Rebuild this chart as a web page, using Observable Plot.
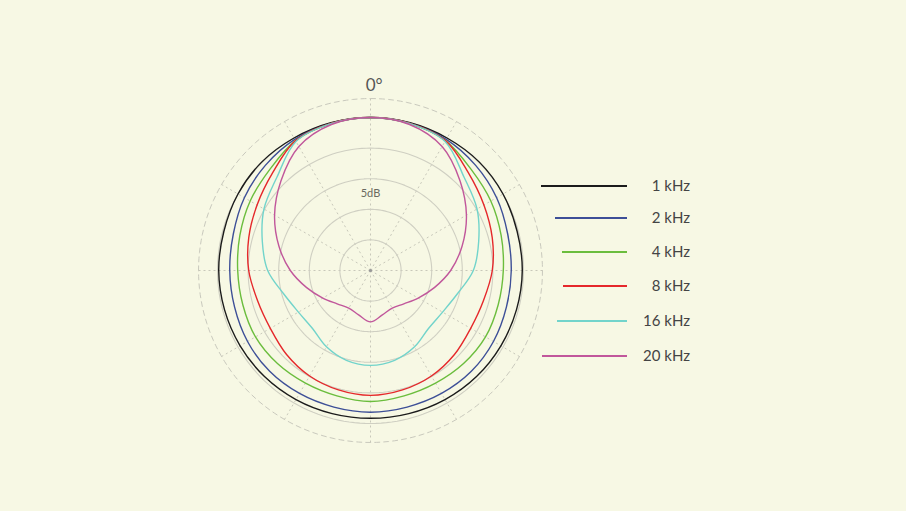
<!DOCTYPE html>
<html><head><meta charset="utf-8">
<script src="https://cdn.jsdelivr.net/npm/d3@7"></script>
<script src="https://cdn.jsdelivr.net/npm/@observablehq/plot@0.6"></script>
<style>
html,body{margin:0;padding:0;background:#f7f8e4;}
#wrap{position:relative;width:906px;height:511px;overflow:hidden;font-family:Lato,"Open Sans",sans-serif;}
#legend{position:absolute;left:0;top:0;}
</style></head><body><div id="wrap"></div>
<script>
// ---- data (dB relative to on-axis level; angle in degrees, 0 = front) ----
const angles = [0, 15, 30, 45, 60, 75, 90, 105, 120, 135, 150, 165, 180];
const frequencies = ["1 kHz", "2 kHz", "4 kHz", "8 kHz", "16 kHz", "20 kHz"];
const db1k  = [0, 0, 0, 0.1, 0, -0.2, -0.2, -0.3, -0.4, -0.5, -0.65, -0.8, -0.85];
const db2k  = [0, -0.1, -0.25, -0.7, -1.2, -1.8, -2.0, -2.0, -1.8, -1.7, -1.8, -1.9, -1.85];
const db4k  = [0, -0.15, -0.5, -1.7, -2.3, -2.9, -3.3, -3.4, -3.3, -3.5, -3.75, -3.8, -3.6];
const db8k  = [0, -0.1, -0.5, -2.4, -3.6, -4.4, -5.1, -5.9, -6.1, -5.6, -5.1, -4.8, -4.6];
const db16k = [0, -0.15, -0.65, -3.4, -4.9, -6.7, -8.2, -10.3, -11.4, -11.6, -10.6, -9.8, -9.5];
const db20k = [0, -0.3, -1.6, -4.3, -6.9, -9.5, -11.9, -14.2, -16.0, -17.3, -17.9, -17.5, -16.6];
const ringLevels = [-20, -15, -10, -5, 0];
const spokeAngles = [0, 30, 60, 90, 120, 150, 180, 210, 240, 270, 300, 330];
const scaleLabel = "5dB";
const scaleLabelDb = -12.4;
const topLabel = "0°";

// ---- styles ----
const colors = ["#1b1b1b", "#3d4f97", "#6bbd3d", "#e5282b", "#72d4cb", "#c1579b"];
const legendStarts = [541, 555, 562, 563, 557, 542];
const legendYs = [186, 218, 252, 286, 321, 356];
const W = 906, H = 511, cx = 370, cy = 270, pxPerDb = 6.12;
const floorDb = -25, outerDb = 3.1;

const series = [db1k, db2k, db4k, db8k, db16k, db20k];
const rad = Math.PI / 180;
const toXY = (ang, db) => ({x: (db - floorDb) * Math.sin(ang * rad), y: (db - floorDb) * Math.cos(ang * rad)});

const curvePts = [];
series.forEach((vals, si) => {
  const full = [];
  angles.forEach((a, i) => full.push([a, vals[i]]));
  for (let i = angles.length - 2; i >= 1; i--) full.push([360 - angles[i], vals[i]]);
  full.forEach(([a, v]) => curvePts.push({freq: frequencies[si], ...toXY(a, v)}));
});

const ringPts = [];
ringLevels.forEach(l => { for (let a = 0; a < 360; a += 2) ringPts.push({ring: l, ...toXY(a, l)}); });
const outerPts = [];
for (let a = 0; a < 360; a += 2) outerPts.push(toXY(a, outerDb));
const spokes = spokeAngles.map(a => ({a, ...toXY(a, outerDb)}));

const chart = Plot.plot({
  width: W, height: H, margin: 0,
  style: {background: "transparent", fontFamily: "Lato, 'Open Sans', sans-serif"},
  x: {domain: [-cx / pxPerDb, (W - cx) / pxPerDb], range: [0, W], axis: null},
  y: {domain: [-(H - cy) / pxPerDb, cy / pxPerDb], range: [H, 0], axis: null},
  color: {domain: frequencies, range: colors},
  marks: [
    Plot.line(outerPts, {x: "x", y: "y", curve: "linear-closed", stroke: "#c9c9bd", strokeWidth: 1, strokeDasharray: "5,4"}),
    Plot.link(spokes, {x1: 0, y1: 0, x2: "x", y2: "y", stroke: "#c2c2b4", strokeWidth: 0.9, strokeDasharray: "2,3"}),
    Plot.line(ringPts, {x: "x", y: "y", z: "ring", curve: "linear-closed", stroke: "#cfcfc2", strokeWidth: 1.1}),
    Plot.dot([{x: 0, y: 0}], {x: "x", y: "y", r: 1.6, fill: "#999", stroke: null}),
    Plot.text([scaleLabel], {x: () => 0, y: () => scaleLabelDb - floorDb, text: d => d, fontSize: 11, fill: "#6a6a60", stroke: "#f7f8e4", strokeWidth: 5}),
    Plot.line(curvePts, {x: "x", y: "y", z: "freq", stroke: "freq", curve: "catmull-rom-closed", strokeWidth: 1.4}),
    Plot.text([topLabel], {x: () => 0.6, y: () => outerDb - floorDb + 2.1, text: d => d, fontSize: 17, fill: "#555"})
  ]
});
document.getElementById("wrap").appendChild(chart);

// legend overlay
const lg = d3.select("#wrap").append("svg").attr("id", "legend").attr("width", W).attr("height", H);
frequencies.forEach((f, i) => {
  lg.append("line").attr("x1", legendStarts[i]).attr("x2", 627).attr("y1", legendYs[i]).attr("y2", legendYs[i])
    .attr("stroke", colors[i]).attr("stroke-width", 2);
  lg.append("text").attr("x", 690).attr("y", legendYs[i] + 1).attr("text-anchor", "end").attr("dominant-baseline", "middle")
    .attr("font-size", 15).attr("fill", "#444").attr("font-family", "Lato, 'Open Sans', sans-serif").text(f);
});
</script></body></html>
